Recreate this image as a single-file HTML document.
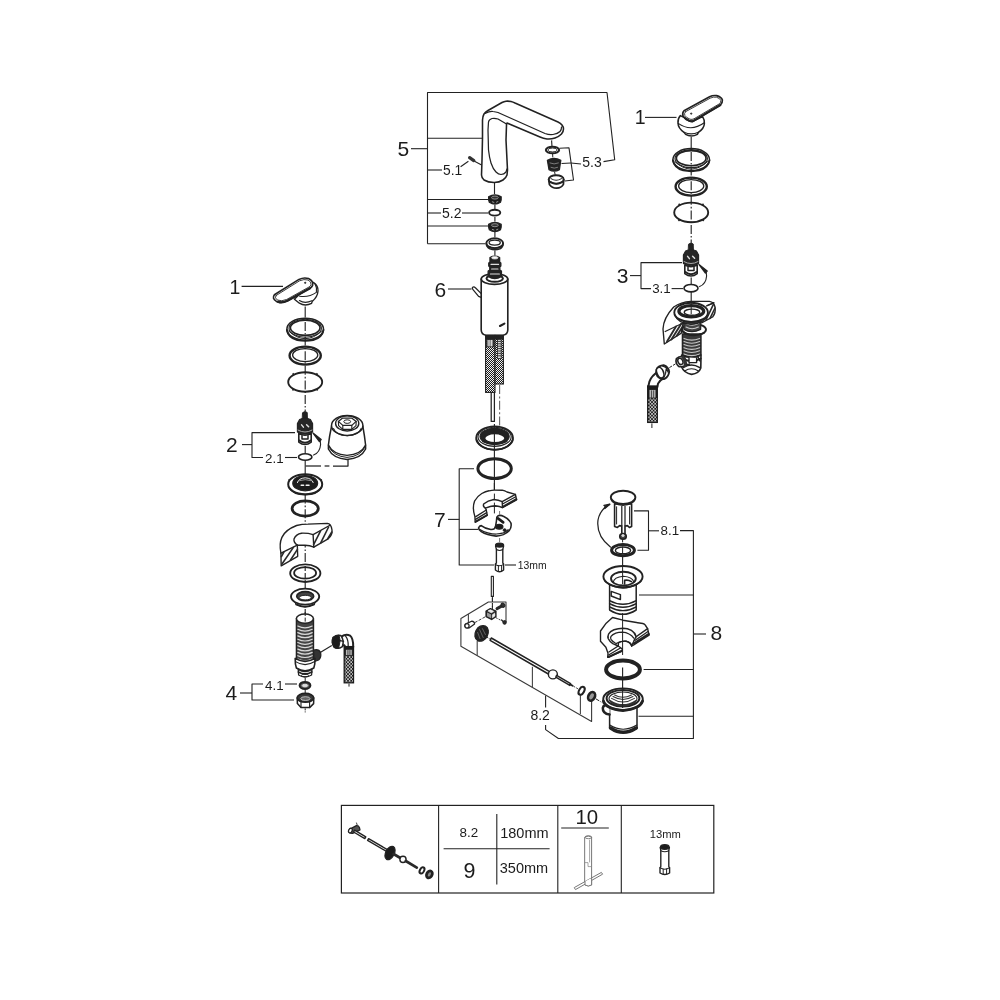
<!DOCTYPE html>
<html lang="en"><head><meta charset="utf-8"><title>Exploded parts diagram</title>
<style>
html,body{margin:0;padding:0;background:#fff;width:1000px;height:1000px;overflow:hidden}
svg{display:block;will-change:transform;transform:translateZ(0)}
text{font-family:"Liberation Sans",Arial,sans-serif;fill:#1c1c1c}
</style></head><body>
<svg width="1000" height="1000" viewBox="0 0 1000 1000">
<defs>
<pattern id="braid" width="2" height="2" patternUnits="userSpaceOnUse" shape-rendering="crispEdges">
<rect width="2" height="2" fill="#1a1a1a"/>
<rect x="0" y="0" width="1" height="1" fill="#f4f4f4"/>
<rect x="1" y="1" width="1" height="1" fill="#f4f4f4"/>
</pattern>
<pattern id="braid2" width="3.2" height="3.4" patternUnits="userSpaceOnUse">
<rect width="3.2" height="3.4" fill="#1a1a1a"/>
<circle cx="0.8" cy="0.85" r="0.78" fill="#fff"/>
<circle cx="2.4" cy="2.55" r="0.78" fill="#fff"/>
</pattern>
</defs>
<g id="leaders">
<polyline points="427.5,243.7 427.5,92.5 607,92.5 614.7,159.8 603.5,161.6" fill="none" stroke="#222" stroke-width="1.1" stroke-linejoin="round" />
<line x1="411" y1="148.7" x2="427.5" y2="148.7" stroke="#222" stroke-width="1.1" />
<line x1="427.5" y1="138.2" x2="482" y2="138.2" stroke="#222" stroke-width="1.1" />
<line x1="427.5" y1="170" x2="442" y2="170" stroke="#222" stroke-width="1.1" />
<line x1="460.6" y1="166.7" x2="468.4" y2="161.2" stroke="#222" stroke-width="1.1" />
<line x1="427.5" y1="199.5" x2="488" y2="199.5" stroke="#222" stroke-width="1.1" />
<line x1="427.5" y1="213" x2="441" y2="213" stroke="#222" stroke-width="1.1" />
<line x1="462" y1="213" x2="488" y2="213" stroke="#222" stroke-width="1.1" />
<line x1="427.5" y1="226" x2="488" y2="226" stroke="#222" stroke-width="1.1" />
<line x1="427.5" y1="243.7" x2="485" y2="243.7" stroke="#222" stroke-width="1.1" />
<text x="397.6" y="155.8" font-size="21" text-anchor="start" >5</text>
<text x="443" y="175.4" font-size="13.8" text-anchor="start" >5.1</text>
<text x="442" y="218.2" font-size="14" text-anchor="start" >5.2</text>
<text x="582.3" y="167.3" font-size="14" text-anchor="start" >5.3</text>
<polyline points="559.5,148.2 569,147.8 573.5,180 564.8,181" fill="none" stroke="#222" stroke-width="1.1" stroke-linejoin="round" />
<line x1="561.5" y1="163.5" x2="571" y2="163" stroke="#222" stroke-width="1.1" />
<line x1="571" y1="163" x2="581" y2="164" stroke="#222" stroke-width="1.1" />
<text x="434.5" y="296.8" font-size="21" text-anchor="start" >6</text>
<line x1="448" y1="289" x2="471.5" y2="289" stroke="#222" stroke-width="1.1" />
<text x="434" y="527" font-size="21" text-anchor="start" >7</text>
<line x1="448" y1="519.4" x2="459.4" y2="519.4" stroke="#222" stroke-width="1.1" />
<polyline points="474,468.8 459.2,468.8 459.2,565 494,565" fill="none" stroke="#222" stroke-width="1.1" stroke-linejoin="round" />
<line x1="459.4" y1="529.4" x2="478" y2="529.4" stroke="#222" stroke-width="1.1" />
<line x1="505" y1="565" x2="516" y2="565" stroke="#222" stroke-width="1.1" />
<text x="517.8" y="568.8" font-size="10.4" text-anchor="start" >13mm</text>
<text x="634.8" y="123.7" font-size="19.5" text-anchor="start" >1</text>
<line x1="645" y1="117.4" x2="676.5" y2="117.4" stroke="#222" stroke-width="1.1" />
<text x="616.8" y="283.2" font-size="21" text-anchor="start" >3</text>
<line x1="630" y1="275.6" x2="641" y2="275.6" stroke="#222" stroke-width="1.1" />
<polyline points="682,262.6 641,262.6 641,288.6 651,288.6" fill="none" stroke="#222" stroke-width="1.1" stroke-linejoin="round" />
<line x1="671.6" y1="288.6" x2="683" y2="288.6" stroke="#222" stroke-width="1.1" />
<text transform="translate(652.2 292.8) scale(1.06 1)" font-size="12.6" text-anchor="start" >3.1</text>
<text x="229.5" y="293.7" font-size="19.5" text-anchor="start" >1</text>
<line x1="241.6" y1="286.4" x2="283" y2="286.4" stroke="#222" stroke-width="1.1" />
<text x="226" y="452.2" font-size="21" text-anchor="start" >2</text>
<line x1="242" y1="444.6" x2="252" y2="444.6" stroke="#222" stroke-width="1.1" />
<polyline points="295,432.6 252,432.6 252,457.5 263,457.5" fill="none" stroke="#222" stroke-width="1.1" stroke-linejoin="round" />
<line x1="285" y1="457.5" x2="297" y2="457.5" stroke="#222" stroke-width="1.1" />
<text transform="translate(265 462.7) scale(1.06 1)" font-size="12.6" text-anchor="start" >2.1</text>
<text x="225.6" y="700.2" font-size="21" text-anchor="start" >4</text>
<line x1="240" y1="693" x2="252" y2="693" stroke="#222" stroke-width="1.1" />
<polyline points="263,684 252,684 252,700 294,700" fill="none" stroke="#222" stroke-width="1.1" stroke-linejoin="round" />
<line x1="285" y1="684" x2="297" y2="684" stroke="#222" stroke-width="1.1" />
<text transform="translate(265 689.8) scale(1.06 1)" font-size="12.6" text-anchor="start" >4.1</text>
<text x="710.5" y="639.8" font-size="21" text-anchor="start" >8</text>
<line x1="694" y1="634" x2="706" y2="634" stroke="#222" stroke-width="1.1" />
<polyline points="680,530.6 693.4,530.6 693.4,738.5 558.4,738.5 545.6,729.6 545.6,725" fill="none" stroke="#222" stroke-width="1.1" stroke-linejoin="round" />
<line x1="545.6" y1="695.6" x2="545.6" y2="707.6" stroke="#222" stroke-width="1.1" />
<line x1="639" y1="595" x2="693.4" y2="595" stroke="#222" stroke-width="1.1" />
<line x1="643.6" y1="669.5" x2="693.4" y2="669.5" stroke="#222" stroke-width="1.1" />
<line x1="638.5" y1="716.3" x2="693.4" y2="716.3" stroke="#222" stroke-width="1.1" />
<text transform="translate(660.6 535.3) scale(1.06 1)" font-size="12.6" text-anchor="start" >8.1</text>
<line x1="648.5" y1="530.8" x2="659" y2="530.8" stroke="#222" stroke-width="1.1" />
<polyline points="634,510.9 648.5,510.9 648.5,550.3 637.4,550.3" fill="none" stroke="#222" stroke-width="1.1" stroke-linejoin="round" />
<text x="530.4" y="719.7" font-size="14" text-anchor="start" >8.2</text>
<polyline points="506,622 506,602 488.4,602 460.9,618.5 460.9,646.3 591.6,721.5 591.6,701" fill="none" stroke="#3a3a3a" stroke-width="1.1" stroke-linejoin="round" />
<line x1="468.4" y1="614" x2="468.4" y2="622.8" stroke="#444" stroke-width="1.1" />
<line x1="477.2" y1="641" x2="477.2" y2="655.6" stroke="#444" stroke-width="1.1" />
<line x1="532.4" y1="666.8" x2="532.4" y2="687.6" stroke="#444" stroke-width="1.1" />
<line x1="580.4" y1="695.6" x2="580.4" y2="714" stroke="#444" stroke-width="1.1" />
</g>
<g id="table">
<rect x="341.4" y="805.4" width="372.4" height="87.6" fill="none" stroke="#222" stroke-width="1.2"/>
<line x1="438.6" y1="805.4" x2="438.6" y2="893" stroke="#222" stroke-width="1.1" />
<line x1="557.8" y1="805.4" x2="557.8" y2="893" stroke="#222" stroke-width="1.1" />
<line x1="621.3" y1="805.4" x2="621.3" y2="893" stroke="#222" stroke-width="1.1" />
<line x1="496.8" y1="814" x2="496.8" y2="884.4" stroke="#222" stroke-width="1.1" />
<line x1="443.6" y1="848.8" x2="549.6" y2="848.8" stroke="#222" stroke-width="1.1" />
<text x="468.9" y="836.6" font-size="13.4" text-anchor="middle" >8.2</text>
<text x="500.2" y="838.4" font-size="14.5" text-anchor="start" >180mm</text>
<text x="469.4" y="878.2" font-size="21.5" text-anchor="middle" >9</text>
<text x="499.8" y="872.8" font-size="14.5" text-anchor="start" >350mm</text>
<text x="586.8" y="824.4" font-size="20.4" text-anchor="middle" >10</text>
<line x1="561.2" y1="828" x2="608.8" y2="828" stroke="#222" stroke-width="1.1" />
<text x="665.4" y="838" font-size="11.2" text-anchor="middle" >13mm</text>
</g>
<g id="centre">
<path d="M481.5 175 L482 160 L482.5 138 L482.5 120 Q482.8 116 484 114 Q485.4 112 488 110.5 L502 102.5 Q504 101.4 506 101.2 Q508.6 101 511 101.5 Q513 102 515 103 L558 122 Q560.6 123.2 562 125 Q563.6 127 563.5 129 Q563.4 132 561.5 134 Q559 136.6 555 138 Q551 139.4 547 139 Q543.4 138.6 540 137 L507 123 Q506.4 123.6 506.5 125 L506 140 L507 160 L507.5 170 L507 175 Q506 178 503 180 Q499 182.6 494 182.5 Q488 182.4 484 180 Q481.6 178 481.5 175 Z" fill="#fff" stroke="#222" stroke-width="1.56" stroke-linejoin="round" stroke-linecap="round" />
<path d="M485 113.4 Q490 111 493 111.5 Q496 111.8 498 112.5 L545 133.5 Q549 135 553 134.5 Q557.6 134 560 131.5 Q561.6 130 561.5 127" fill="none" stroke="#222" stroke-width="1.25" stroke-linejoin="round" stroke-linecap="round" />
<path d="M506.5 124 L498 119 Q495 118 492 118.5 Q489 119.4 488.5 122 L488 130 L488.5 150 Q489.4 158 491 163 Q493 169 496 172 Q498.4 174.4 501 174.5 Q504 174.4 506 172 L507 169" fill="none" stroke="#222" stroke-width="1.25" stroke-linejoin="round" stroke-linecap="round" />
<line x1="474.5" y1="161.2" x2="481.6" y2="165" stroke="#222" stroke-width="1.12" />
<path d="M469.6 157.6 L473.8 160.6" fill="none" stroke="#333" stroke-width="3.25" stroke-linejoin="round" stroke-linecap="round" />
<line x1="494.5" y1="183" x2="494.5" y2="194" stroke="#222" stroke-width="1.12" />
<line x1="551.6" y1="140.4" x2="552" y2="146.4" stroke="#222" stroke-width="1.12" />
<ellipse cx="552.5" cy="150" rx="6.6" ry="3.3" fill="none" stroke="#222" stroke-width="2.12" />
<ellipse cx="552.5" cy="150" rx="4.6" ry="1.9" fill="none" stroke="#222" stroke-width="0.88" />
<line x1="552.6" y1="153.6" x2="552.8" y2="157.4" stroke="#222" stroke-width="1.0" />
<path d="M547.4 160.4 Q554 156.6 560.8 160.4 L559.4 169.6 Q554.2 172.8 549 169.6 Z" fill="#222" stroke="#222" stroke-width="1.25" stroke-linejoin="round" stroke-linecap="round" />
<path d="M550 163 Q554 165 558.4 163 M551 167.4 Q554.2 169 557.6 167.4" fill="none" stroke="#888" stroke-width="0.88" stroke-linejoin="round" stroke-linecap="round" />
<line x1="554.6" y1="172" x2="555.2" y2="175" stroke="#222" stroke-width="1.0" />
<ellipse cx="556.2" cy="179.4" rx="7.5" ry="4.2" fill="#fff" stroke="#222" stroke-width="1.88" />
<path d="M548.7 179.6 L549.4 184.4 Q552 188 556.6 188.2 Q561.4 188 563.4 184.4 L563.7 179.6" fill="none" stroke="#222" stroke-width="1.75" stroke-linejoin="round" stroke-linecap="round" />
<path d="M550.2 181.6 Q556.4 186.6 562.6 181.6" fill="none" stroke="#222" stroke-width="1.25" stroke-linejoin="round" stroke-linecap="round" />
<path d="M551 178.6 Q556.2 182 561.4 178.6" fill="none" stroke="#222" stroke-width="1.12" stroke-linejoin="round" stroke-linecap="round" />
<path d="M488.59999999999997 196.79999999999998 Q488.29999999999995 200.2 489.29999999999995 202.2 Q494.9 205.79999999999998 500.5 202.2 Q501.5 200.2 501.2 196.79999999999998 Q494.9 192.79999999999998 488.59999999999997 196.79999999999998 Z" fill="#1c1c1c" stroke="#222" stroke-width="1.25" stroke-linejoin="round" stroke-linecap="round" />
<ellipse cx="494.9" cy="197.6" rx="3.4" ry="1.5" fill="#333" stroke="#999" stroke-width="0.88" />
<path d="M492.29999999999995 201.79999999999998 L493.9 202.39999999999998 M496.5 202.2 L497.9 201.6" fill="none" stroke="#aaa" stroke-width="0.88" stroke-linejoin="round" stroke-linecap="round" />
<line x1="494.9" y1="205" x2="494.9" y2="209" stroke="#222" stroke-width="1.12" />
<ellipse cx="494.7" cy="212.7" rx="5.6" ry="2.9" fill="none" stroke="#222" stroke-width="1.88" />
<line x1="494.9" y1="217" x2="494.9" y2="221.5" stroke="#222" stroke-width="1.12" />
<path d="M488.59999999999997 224.4 Q488.29999999999995 227.8 489.29999999999995 229.8 Q494.9 233.4 500.5 229.8 Q501.5 227.8 501.2 224.4 Q494.9 220.4 488.59999999999997 224.4 Z" fill="#1c1c1c" stroke="#222" stroke-width="1.25" stroke-linejoin="round" stroke-linecap="round" />
<ellipse cx="494.9" cy="225.20000000000002" rx="3.4" ry="1.5" fill="#333" stroke="#999" stroke-width="0.88" />
<path d="M492.29999999999995 229.4 L493.9 230.0 M496.5 229.8 L497.9 229.20000000000002" fill="none" stroke="#aaa" stroke-width="0.88" stroke-linejoin="round" stroke-linecap="round" />
<line x1="494.9" y1="232" x2="494.9" y2="237" stroke="#222" stroke-width="1.12" />
<ellipse cx="494.7" cy="243.2" rx="8.4" ry="4.9" fill="#fff" stroke="#222" stroke-width="1.88" />
<path d="M486.29999999999995 243.4 Q486.5 247 489.9 248.8 Q494.9 250.8 499.9 248.8 Q503.09999999999997 247 503.09999999999997 243.4" fill="none" stroke="#222" stroke-width="1.62" stroke-linejoin="round" stroke-linecap="round" />
<ellipse cx="494.7" cy="242.6" rx="5.6" ry="2.6" fill="none" stroke="#222" stroke-width="1.25" />
<path d="M488.5 246.4 Q494.9 249.8 500.9 246.4" fill="none" stroke="#222" stroke-width="1.12" stroke-linejoin="round" stroke-linecap="round" />
<line x1="494.9" y1="250.6" x2="494.9" y2="255.6" stroke="#222" stroke-width="1.12" />
<path d="M481.2 279 L481.2 330 Q481.4 334.6 486 335.2 L503 335.2 Q507.6 334.6 507.8 330 L507.8 279" fill="#fff" stroke="#222" stroke-width="1.62" stroke-linejoin="round" stroke-linecap="round" />
<ellipse cx="494.5" cy="279" rx="13.3" ry="5.4" fill="#fff" stroke="#222" stroke-width="1.62" />
<ellipse cx="494.7" cy="278.4" rx="8.2" ry="3.4" fill="#fff" stroke="#222" stroke-width="2.0" />
<path d="M490 257.6 Q494.8 255 499.6 257.6 L499.6 262 L500.8 263 L500.8 266 L499.8 267 L499.8 270 L501.4 271 L501.4 276.4 Q494.8 280.6 488.2 276.4 L488.2 271 L489.8 270 L489.8 267 L488.8 266 L488.8 263 L490 262 Z" fill="#222" stroke="#222" stroke-width="1.38" stroke-linejoin="round" stroke-linecap="round" />
<ellipse cx="494.8" cy="257.8" rx="3.2" ry="1.2" fill="#fff" stroke="#ccc" stroke-width="0.88" />
<path d="M491 264.4 L498.6 264.4 M491.6 269 L498 269 M490.4 274 L499.4 274" fill="none" stroke="#ddd" stroke-width="1.12" stroke-linejoin="round" stroke-linecap="round" />
<path d="M472.4 287.4 Q474 286.2 475.4 287.8 L481 293.4 M472.4 287.4 Q472 288.6 473 289.6 L478.6 296.4 L481.2 297.4" fill="none" stroke="#222" stroke-width="1.25" stroke-linejoin="round" stroke-linecap="round" />
<path d="M500 326 L504.4 323.6" fill="none" stroke="#222" stroke-width="2.12" stroke-linejoin="round" stroke-linecap="round" />
<rect x="485.6" y="335.4" width="9.4" height="57" fill="url(#braid)" stroke="#222" stroke-width="1.1"/>
<rect x="495" y="335.4" width="8.4" height="48.6" fill="url(#braid)" stroke="#222" stroke-width="1.1"/>
<rect x="485.6" y="335.4" width="17.8" height="4" fill="#222"/>
<rect x="486.6" y="339.4" width="7" height="7.4" fill="#888" stroke="#222" stroke-width="0.9"/>
<line x1="489" y1="340" x2="489" y2="346.4" stroke="#eee" stroke-width="0.88" />
<line x1="491.4" y1="340" x2="491.4" y2="346.4" stroke="#eee" stroke-width="0.88" />
<rect x="497.4" y="339.4" width="3.8" height="19" fill="#ddd" stroke="#222" stroke-width="0.8"/>
<line x1="497.4" y1="341.4" x2="501.2" y2="341.4" stroke="#222" stroke-width="0.88" />
<line x1="497.4" y1="343.79999999999995" x2="501.2" y2="343.79999999999995" stroke="#222" stroke-width="0.88" />
<line x1="497.4" y1="346.2" x2="501.2" y2="346.2" stroke="#222" stroke-width="0.88" />
<line x1="497.4" y1="348.59999999999997" x2="501.2" y2="348.59999999999997" stroke="#222" stroke-width="0.88" />
<line x1="497.4" y1="351.0" x2="501.2" y2="351.0" stroke="#222" stroke-width="0.88" />
<line x1="497.4" y1="353.4" x2="501.2" y2="353.4" stroke="#222" stroke-width="0.88" />
<line x1="497.4" y1="355.79999999999995" x2="501.2" y2="355.79999999999995" stroke="#222" stroke-width="0.88" />
<path d="M491.2 392.4 L491.2 421.4 L494.4 421.4 L494.4 392.4" fill="none" stroke="#222" stroke-width="1.25" stroke-linejoin="round" stroke-linecap="round" />
<line x1="499.6" y1="385" x2="499.6" y2="431" stroke="#666" stroke-width="1.12" stroke-dasharray="9 2.4 2 2.4"/>
<ellipse cx="494.6" cy="438" rx="18.4" ry="11.6" fill="#fff" stroke="#222" stroke-width="1.88" />
<path d="M476.4 439.6 Q480 449.4 494.6 450 Q509.4 449.4 512.8 439.6" fill="none" stroke="#222" stroke-width="1.5" stroke-linejoin="round" stroke-linecap="round" />
<ellipse cx="494.6" cy="436.8" rx="16.6" ry="9.6" fill="#fff" stroke="#222" stroke-width="1.12" />
<ellipse cx="494.6" cy="436.4" rx="14.6" ry="8" fill="#222" stroke="#222" stroke-width="1.12" />
<ellipse cx="494.8" cy="438.2" rx="10.2" ry="4.6" fill="#fff" stroke="#222" stroke-width="1.5" />
<path d="M482.6 441.6 Q494.6 448 507 441.6" fill="none" stroke="#222" stroke-width="1.12" stroke-linejoin="round" stroke-linecap="round" />
<line x1="494.4" y1="424" x2="494.4" y2="457" stroke="#222" stroke-width="1.12" />
<ellipse cx="494.6" cy="468.6" rx="16.7" ry="9.9" fill="none" stroke="#222" stroke-width="3.0" />
<line x1="494.4" y1="457" x2="494.4" y2="490" stroke="#222" stroke-width="1.12" />
<path d="M475.2 522.3 L474.9 516.6 Q472 508 474.6 501 Q477 496.4 481.8 493.5 Q485.6 491.4 489 490.8 Q492 490.1 494.4 490.1 L502.2 490.2 Q505 491 507 492 L515.4 494.4 L516.6 499.8 L502.5 507.6 Q499.8 506.2 495 505.8 Q490.2 506 485.4 508.2 L486.3 510 L487.2 515.4 Z" fill="#fff" stroke="#222" stroke-width="1.38" stroke-linejoin="round" stroke-linecap="round" />
<path d="M502.5 507.6 L502.2 501.6 Q498.6 499.8 493.8 499.5 Q487.8 500.4 483.6 504 Q482.6 506.6 485.4 508.2" fill="none" stroke="#222" stroke-width="1.38" stroke-linejoin="round" stroke-linecap="round" />
<path d="M502.2 501.6 L515.4 494.4 M475.8 516.6 L486.3 510" fill="none" stroke="#222" stroke-width="1.38" stroke-linejoin="round" stroke-linecap="round" />
<path d="M502.5 504 L515.7 496.8" fill="none" stroke="#222" stroke-width="1.25" stroke-linejoin="round" stroke-linecap="round" />
<path d="M502.7 506.8 L516.4 499.2" fill="none" stroke="#222" stroke-width="2.0" stroke-linejoin="round" stroke-linecap="round" />
<path d="M475.5 519.4 L486.7 512.6" fill="none" stroke="#222" stroke-width="1.25" stroke-linejoin="round" stroke-linecap="round" />
<path d="M475.6 521.6 L487.1 515" fill="none" stroke="#222" stroke-width="1.75" stroke-linejoin="round" stroke-linecap="round" />
<line x1="494.4" y1="483" x2="494.4" y2="490" stroke="#222" stroke-width="1.12" />
<path d="M494.4 494 L494.4 499 M494.4 503 L494.4 513 M491 506.4 L498 506.4" fill="none" stroke="#222" stroke-width="1.0" stroke-linejoin="round" stroke-linecap="round" />
<path d="M478.5 528 Q479.4 525.8 481.2 525.6 Q485 528.6 490.8 529.5 Q493.4 529.6 494.4 528.6 L495.6 526.2 Q496.6 521 496.8 517.2 Q498 515.4 499.8 515.4 Q502 515.4 503.4 516.3 Q507.6 518.4 509.4 520.8 Q511.4 523 511.2 525 Q511.2 528 509.4 530.4 Q507 533 503.4 534.6 Q500 536 496.2 536.1 Q492 536 487.8 534.6 Q484 533.4 481.2 531.6 Q478.6 530 478.5 528 Z" fill="#fff" stroke="#222" stroke-width="1.56" stroke-linejoin="round" stroke-linecap="round" />
<path d="M479.4 529.2 Q483 531.6 487.8 532.8 Q492 534 496.2 534 Q500 533.8 503.4 532.8 Q506.4 531.6 508.2 529.8" fill="none" stroke="#222" stroke-width="1.25" stroke-linejoin="round" stroke-linecap="round" />
<path d="M498 518.4 L503.2 522.4" fill="none" stroke="#1c1c1c" stroke-width="2.62" stroke-linejoin="round" stroke-linecap="round" />
<ellipse cx="499.2" cy="526.8" rx="3.7" ry="2.4" fill="#1c1c1c" stroke="#222" stroke-width="1.25" />
<ellipse cx="504.6" cy="530.1" rx="1.5" ry="1.3" fill="#1c1c1c" stroke="#222" stroke-width="1.0" />
<path d="M499.6 511.4 L499.6 514.6" fill="none" stroke="#777" stroke-width="1.0" stroke-linejoin="round" stroke-linecap="round" />
<path d="M499.6 538.4 L499.6 541.6" fill="none" stroke="#777" stroke-width="1.0" stroke-linejoin="round" stroke-linecap="round" />
<path d="M495.6 546 L496.4 549.4 L496.4 563 L495.4 564 L495.4 570 Q499.6 573.4 503.6 570 L503.6 564 L502.8 563 L502.8 549.4 L503.6 546" fill="#fff" stroke="#222" stroke-width="1.38" stroke-linejoin="round" stroke-linecap="round" />
<ellipse cx="499.6" cy="545" rx="4" ry="2" fill="#222" stroke="#222" stroke-width="1.25" />
<path d="M496.4 549.6 Q499.6 551.4 502.8 549.6 M495.4 564.4 Q499.6 567 503.6 564.4" fill="none" stroke="#222" stroke-width="1.12" stroke-linejoin="round" stroke-linecap="round" />
<line x1="498.4" y1="565.4" x2="498.4" y2="571.4" stroke="#222" stroke-width="1.0" />
<line x1="501.6" y1="565" x2="501.6" y2="571" stroke="#222" stroke-width="1.0" />
<path d="M491.3 576.4 L491.3 596.4 L493.4 596.4 L493.4 576.4 Z" fill="none" stroke="#222" stroke-width="1.12" stroke-linejoin="round" stroke-linecap="round" />
<line x1="492.4" y1="596.4" x2="492.4" y2="610" stroke="#222" stroke-width="1.0" stroke-dasharray="5 1.6 1.2 1.6"/>
</g>
<g id="rodset">
<line x1="492.4" y1="598" x2="492.4" y2="610" stroke="#222" stroke-width="1.0" stroke-dasharray="4 1.5"/>
<path d="M486.2 611.2 L490.4 608.8 L495.8 611.2 L495.8 616.6 L491.6 619.4 L486.2 616.6 Z" fill="#999" stroke="#222" stroke-width="1.62" stroke-linejoin="round" stroke-linecap="round" />
<path d="M486.4 611.4 L491.6 614 L495.6 611.4 M491.6 614 L491.6 619.2" fill="none" stroke="#222" stroke-width="1.12" stroke-linejoin="round" stroke-linecap="round" />
<path d="M488.4 610.6 L490.6 609.8 L493.4 611.2 L491.4 612.4 Z" fill="#eee" stroke="#eee" stroke-width="0.62" stroke-linejoin="round" stroke-linecap="round" />
<path d="M492.6 615 L494.8 613.6 L494.8 616 L492.6 617.6 Z" fill="#eee" stroke="#eee" stroke-width="0.62" stroke-linejoin="round" stroke-linecap="round" />
<path d="M497 608.6 L502.4 605.6" fill="none" stroke="#2a2a2a" stroke-width="3.0" stroke-linejoin="round" stroke-linecap="round" />
<ellipse cx="503" cy="605.2" rx="1.8" ry="2.2" fill="#333" stroke="#222" stroke-width="1.0" transform="rotate(-30 503 605.2)" />
<path d="M501.6 620 L505 623.4" fill="none" stroke="#222" stroke-width="1.25" stroke-linejoin="round" stroke-linecap="round" />
<ellipse cx="504.6" cy="622.4" rx="1.7" ry="1.9" fill="#2a2a2a" stroke="#222" stroke-width="1.0" />
<line x1="495.8" y1="617.6" x2="501" y2="620.4" stroke="#222" stroke-width="0.88" stroke-dasharray="2 1.2"/>
<path d="M466.4 623.6 L471.6 621.2 Q474.6 621.4 474.6 624 L469.4 627.8 Q465.4 628.2 464.8 625.6 Q464.8 624 466.4 623.6 Z" fill="#fff" stroke="#222" stroke-width="1.25" stroke-linejoin="round" stroke-linecap="round" />
<ellipse cx="467" cy="625.8" rx="2.1" ry="2.3" fill="#fff" stroke="#222" stroke-width="1.25" />
<line x1="474.8" y1="622.6" x2="486" y2="616.4" stroke="#222" stroke-width="0.88" stroke-dasharray="3 1.4"/>
<ellipse cx="481.6" cy="633.4" rx="6.3" ry="8.2" fill="#222" stroke="#222" stroke-width="1.25" transform="rotate(28 481.6 633.4)" />
<path d="M479.6 629.6 L483.2 637.6 M477.6 632.4 L480 638.6 M482.4 628.6 L485.4 634.6" fill="none" stroke="#777" stroke-width="0.75" stroke-linejoin="round" stroke-linecap="round" />
<line x1="486.6" y1="637" x2="491" y2="639.6" stroke="#222" stroke-width="0.88" stroke-dasharray="2 1.2"/>
<path d="M491.3 638.0 L549.6 671.6 L548.4 674 L490.1 640.4 Z" fill="#fff" stroke="#222" stroke-width="1.56" stroke-linejoin="round" stroke-linecap="round" />
<ellipse cx="552.9" cy="674.4" rx="4.5" ry="4.5" fill="#fff" stroke="#222" stroke-width="1.38" />
<path d="M556.6 675.4 L570.6 683.6 L569.8 685.4 L555.8 677.2 Z" fill="#fff" stroke="#222" stroke-width="1.5" stroke-linejoin="round" stroke-linecap="round" />
<path d="M570.4 684.4 L572.6 685.8" fill="none" stroke="#222" stroke-width="1.75" stroke-linejoin="round" stroke-linecap="round" />
<line x1="573.4" y1="686.2" x2="579" y2="689.4" stroke="#222" stroke-width="0.88" stroke-dasharray="2 1.2"/>
<ellipse cx="581.6" cy="690.8" rx="2.5" ry="4.3" fill="#fff" stroke="#222" stroke-width="2.12" transform="rotate(28 581.6 690.8)" />
<ellipse cx="591.6" cy="696.4" rx="3.2" ry="4.5" fill="#999" stroke="#222" stroke-width="2.62" transform="rotate(28 591.6 696.4)" />
<line x1="595.8" y1="698.8" x2="603.8" y2="703.6" stroke="#222" stroke-width="1.0" stroke-dasharray="4 1.4 1 1.4"/>
</g>
<g id="waste">
<path d="M614.6 504 L614.6 526.4 L617.4 527.4 L619.6 525.6 L621.8 526 L621.8 534 L625 534 L625 526 L627.4 525.6 L629.4 527.4 L631.6 526.4 L631.6 504 Z" fill="#fff" stroke="#222" stroke-width="1.62" stroke-linejoin="round" stroke-linecap="round" />
<line x1="616.6" y1="506.4" x2="616.6" y2="524.4" stroke="#222" stroke-width="1.0" />
<line x1="629.6" y1="506.4" x2="629.6" y2="524.4" stroke="#222" stroke-width="1.0" />
<line x1="621.8" y1="506" x2="621.8" y2="526" stroke="#222" stroke-width="1.25" />
<line x1="625" y1="506" x2="625" y2="526" stroke="#222" stroke-width="1.25" />
<ellipse cx="623" cy="536.4" rx="3.3" ry="2.8" fill="#444" stroke="#222" stroke-width="1.5" />
<ellipse cx="623" cy="535.6" rx="1.3" ry="1" fill="#ddd" stroke="#ddd" stroke-width="0.75" />
<ellipse cx="623.1" cy="497.3" rx="12.3" ry="6.6" fill="#fff" stroke="#222" stroke-width="1.88" />
<path d="M611.2 499.6 Q613 504.8 623 505.2 Q633 504.8 635 499.6" fill="none" stroke="#222" stroke-width="1.5" stroke-linejoin="round" stroke-linecap="round" />
<path d="M610.4 547 Q596 536 598 520 Q600 509.4 609.6 504.4" fill="none" stroke="#222" stroke-width="1.25" stroke-linejoin="round" stroke-linecap="round" />
<path d="M604.8 508.4 L609.8 504.2 L604 505.4" fill="#222" stroke="#222" stroke-width="1.38" stroke-linejoin="round" stroke-linecap="round" />
<line x1="622.6" y1="539.4" x2="622.6" y2="544" stroke="#222" stroke-width="1.0" stroke-dasharray="3 1.2"/>
<ellipse cx="623" cy="550.2" rx="11.4" ry="5.6" fill="#fff" stroke="#222" stroke-width="3.0" />
<ellipse cx="623" cy="550.4" rx="7.6" ry="3.4" fill="none" stroke="#222" stroke-width="1.38" />
<line x1="622.6" y1="546.6" x2="622.6" y2="553.6" stroke="#222" stroke-width="1.0" />
<line x1="622.6" y1="556.6" x2="622.6" y2="566.4" stroke="#222" stroke-width="1.12" />
<path d="M609.6 584 L609.6 610 Q623 618.6 636.2 610 L636.2 584 Z" fill="#fff" stroke="#222" stroke-width="1.5" stroke-linejoin="round" stroke-linecap="round" />
<path d="M609.6 600.6 Q623 608 636.2 600.6 M609.6 603.6 Q623 611 636.2 603.6 M609.6 606.8 Q623 614.4 636.2 606.8" fill="none" stroke="#222" stroke-width="1.38" stroke-linejoin="round" stroke-linecap="round" />
<path d="M611.2 591.4 L620.4 594.6 L620.4 599.6 L611.2 596 Z" fill="#fff" stroke="#222" stroke-width="1.5" stroke-linejoin="round" stroke-linecap="round" />
<ellipse cx="623" cy="576.6" rx="19.6" ry="10.6" fill="#fff" stroke="#222" stroke-width="1.88" />
<path d="M605 581.6 Q623 594.6 641 581.6" fill="none" stroke="#222" stroke-width="1.25" stroke-linejoin="round" stroke-linecap="round" />
<ellipse cx="623.4" cy="578.6" rx="12.4" ry="6.9" fill="#fff" stroke="#222" stroke-width="1.88" />
<path d="M613.2 582.4 Q614 577 623.4 576.2 Q632.6 577 633.8 582" fill="none" stroke="#222" stroke-width="1.12" stroke-linejoin="round" stroke-linecap="round" />
<path d="M624.6 584 L624.6 580.4 Q628 579.4 631.4 581.6" fill="none" stroke="#222" stroke-width="1.62" stroke-linejoin="round" stroke-linecap="round" />
<line x1="622.6" y1="566.4" x2="622.6" y2="584" stroke="#222" stroke-width="1.0" />
<path d="M612.5 617.5 L623 620.2 L635 622.3 L642.8 623.5 Q644.6 624 645.2 625 L647.6 628.6 L649.1 635.2 L633.8 644.8 L631.6 646 Q630.4 642.6 626 641.2 Q622 640.8 618.6 642.6 L618.2 646 L622.4 649 L621.8 651.4 L607.7 657.4 L608 653.2 L605.9 647.2 L600.5 641.2 L600.5 631 L606.2 623.2 Z" fill="#fff" stroke="#222" stroke-width="1.38" stroke-linejoin="round" stroke-linecap="round" />
<path d="M636.2 636.7 Q635 632.6 631.4 630.4 Q627.6 628.4 623 628.3 Q618 628.4 614 629.8 Q610 631.4 608.6 634 Q607.4 636.6 608.3 638.8 Q609.6 641.6 612.8 643.6 L618.2 646" fill="none" stroke="#222" stroke-width="1.5" stroke-linejoin="round" stroke-linecap="round" />
<path d="M633.8 638.2 Q632 635.4 629 634 Q626 632.4 622.4 632.2 Q618.6 632.2 615.8 633.1 Q612.4 634.4 611 636.4 Q610.2 638 611 639.4 Q612.4 641.6 615.2 643" fill="none" stroke="#222" stroke-width="1.25" stroke-linejoin="round" stroke-linecap="round" />
<path d="M615.8 643.9 Q617.6 642.4 620 641.8 Q623 641 626 641.2 Q628.6 641.6 630.2 643 Q631.4 644.4 631.7 646" fill="none" stroke="#222" stroke-width="1.38" stroke-linejoin="round" stroke-linecap="round" />
<path d="M636.2 636.7 L647.6 628.6 M636.2 636.7 Q634.4 639.4 633.4 642 L631.7 646" fill="none" stroke="#222" stroke-width="1.38" stroke-linejoin="round" stroke-linecap="round" />
<path d="M634.8 640.6 L648 631.4" fill="none" stroke="#222" stroke-width="1.25" stroke-linejoin="round" stroke-linecap="round" />
<path d="M634 643.4 L648.8 634" fill="none" stroke="#222" stroke-width="2.12" stroke-linejoin="round" stroke-linecap="round" />
<path d="M608.9 652 L618.2 646" fill="none" stroke="#222" stroke-width="1.38" stroke-linejoin="round" stroke-linecap="round" />
<path d="M608.6 655 L620.4 648" fill="none" stroke="#222" stroke-width="1.25" stroke-linejoin="round" stroke-linecap="round" />
<path d="M608.6 657 L622 650.6" fill="none" stroke="#222" stroke-width="2.0" stroke-linejoin="round" stroke-linecap="round" />
<line x1="622.6" y1="613" x2="622.6" y2="655" stroke="#222" stroke-width="1.0" />
<ellipse cx="623" cy="669.5" rx="16.9" ry="8.9" fill="none" stroke="#222" stroke-width="4.0" />
<line x1="622.6" y1="667.6" x2="622.6" y2="690" stroke="#222" stroke-width="1.12" />
<path d="M609.6 704 L609.6 728 Q623 737 637 728 L637 704 Z" fill="#fff" stroke="#222" stroke-width="1.5" stroke-linejoin="round" stroke-linecap="round" />
<path d="M609.8 725 Q623 733.4 636.8 725" fill="none" stroke="#222" stroke-width="1.12" stroke-linejoin="round" stroke-linecap="round" />
<path d="M610.6 728 Q623 736.6 636.2 728" fill="none" stroke="#222" stroke-width="3.5" stroke-linejoin="round" stroke-linecap="round" />
<path d="M609.6 705.6 Q603.6 703.6 602.8 708 Q602.6 713.6 609.6 714.6" fill="#fff" stroke="#222" stroke-width="2.5" stroke-linejoin="round" stroke-linecap="round" />
<ellipse cx="623" cy="699.2" rx="19.8" ry="10.8" fill="#fff" stroke="#222" stroke-width="1.88" />
<path d="M603.4 701 Q606 709 623 710.6 Q640 709 642.6 701" fill="none" stroke="#222" stroke-width="2.75" stroke-linejoin="round" stroke-linecap="round" />
<ellipse cx="623" cy="698.2" rx="16.4" ry="8.2" fill="#fff" stroke="#222" stroke-width="2.0" />
<ellipse cx="623" cy="698.6" rx="14" ry="6.6" fill="none" stroke="#222" stroke-width="1.12" />
<path d="M610.4 700.6 Q623 708.6 635.6 700.6 M611.6 698.4 Q623 705.6 634.4 698.4 M613 696.6 Q623 702.4 633 696.6 M612 703 Q623 709.6 634 703 M614.6 695 Q623 699.6 631.4 695 M611 702 Q623 709 635 702" fill="none" stroke="#333" stroke-width="1.12" stroke-linejoin="round" stroke-linecap="round" />
<line x1="622.6" y1="690" x2="622.6" y2="708" stroke="#222" stroke-width="1.0" />
</g>
<g id="leftcol">
<path d="M294.4 299.2 L299.4 303.2 Q305 306.6 311.6 303.4 L312.2 301.4 Q317.6 297 318 291 Q318.4 286 313.4 282.4 L306 288 Z" fill="#fff" stroke="#222" stroke-width="1.38" stroke-linejoin="round" stroke-linecap="round" />
<path d="M299.4 300.6 Q305 304 311.8 300.8" fill="none" stroke="#222" stroke-width="1.12" stroke-linejoin="round" stroke-linecap="round" />
<path d="M315 283.8 Q317.2 288 316.4 292.4 Q309 297.6 299.6 296.2" fill="none" stroke="#222" stroke-width="1.12" stroke-linejoin="round" stroke-linecap="round" />
<path d="M274.4 294.8 L299 279.4 Q304 277 308.5 278.6 Q313.6 281 312.6 285.4 Q312 287 310 288.2 L287.4 300.8 Q281 303.6 276.4 301.4 Q271.6 298.4 274.4 294.8 Z" fill="#fff" stroke="#222" stroke-width="1.62" stroke-linejoin="round" stroke-linecap="round" />
<path d="M276 295.6 L299.6 280.8 Q304 278.8 308 280 Q311.6 281.8 311 284.6 Q310.6 286 309 287 L286.8 299.4 Q281.4 301.8 277.4 300 Q274 298 276 295.6 Z" fill="none" stroke="#222" stroke-width="0.88" stroke-linejoin="round" stroke-linecap="round" />
<path d="M278 301.6 Q282 303.4 287.4 300.8 L310 288.2" fill="none" stroke="#222" stroke-width="2.25" stroke-linejoin="round" stroke-linecap="round" />
<ellipse cx="305.2" cy="282.8" rx="0.7" ry="0.7" fill="#222" stroke="#222" stroke-width="0.75" />
<line x1="305.2" y1="306.4" x2="305.2" y2="317.6" stroke="#222" stroke-width="1.12" />
<ellipse cx="305.2" cy="329.20000000000005" rx="18.3" ry="11.0" fill="none" stroke="#222" stroke-width="1.5" />
<path d="M286.9 330.0 Q288.2 337.6 297.2 340.0 Q305.2 341.6 313.2 340.0 Q322.2 337.6 323.5 330.0" fill="none" stroke="#222" stroke-width="1.88" stroke-linejoin="round" stroke-linecap="round" />
<ellipse cx="305.2" cy="328.20000000000005" rx="16.2" ry="9.0" fill="none" stroke="#222" stroke-width="1.12" />
<ellipse cx="305.2" cy="327.8" rx="14.8" ry="7.6" fill="none" stroke="#222" stroke-width="1.62" />
<path d="M288.8 331.20000000000005 Q305.2 346.40000000000003 321.59999999999997 331.20000000000005" fill="none" stroke="#222" stroke-width="1.0" stroke-linejoin="round" stroke-linecap="round" />
<ellipse cx="305.2" cy="355.6" rx="15.6" ry="9.0" fill="none" stroke="#222" stroke-width="2.38" />
<ellipse cx="305.2" cy="355.0" rx="12.6" ry="6.5" fill="none" stroke="#222" stroke-width="1.25" />
<ellipse cx="305.2" cy="382" rx="17" ry="9.8" fill="none" stroke="#222" stroke-width="1.88" />
<line x1="293.8" y1="374.6" x2="292.65999999999997" y2="373.342" stroke="#222" stroke-width="1.62" />
<line x1="316.4" y1="374.6" x2="317.52" y2="373.342" stroke="#222" stroke-width="1.62" />
<line x1="293.59999999999997" y1="389.2" x2="292.44" y2="390.424" stroke="#222" stroke-width="1.62" />
<line x1="316.59999999999997" y1="389.2" x2="317.74" y2="390.424" stroke="#222" stroke-width="1.62" />
<line x1="305.2" y1="322" x2="305.2" y2="411.5" stroke="#222" stroke-width="1.12" stroke-dasharray="9 2 1.6 2"/>
<path d="M302.8 412.5 Q305 410.7 307.2 412.5 L307.4 419.0 L302.6 419.0 Z" fill="#222" stroke="#222" stroke-width="1.0" stroke-linejoin="round" stroke-linecap="round" />
<path d="M299.6 419.5 Q305 417.1 310.4 419.5 L312.6 423.5 L312.6 431.9 Q305 436.5 297.4 431.9 L297.4 423.5 Z" fill="#262626" stroke="#222" stroke-width="1.12" stroke-linejoin="round" stroke-linecap="round" />
<path d="M301.6 424.9 L303.4 427.1 M306.6 424.7 L308.6 426.7" fill="none" stroke="#ddd" stroke-width="1.5" stroke-linejoin="round" stroke-linecap="round" />
<path d="M298 430.1 Q305 434.1 312 430.1" fill="none" stroke="#aaa" stroke-width="1.0" stroke-linejoin="round" stroke-linecap="round" />
<path d="M298.8 433.5 L298.8 442.1 Q305 446.9 311.2 442.1 L311.2 433.5 Q305 436.9 298.8 433.5 Z" fill="#fff" stroke="#222" stroke-width="1.62" stroke-linejoin="round" stroke-linecap="round" />
<path d="M299.4 440.5 Q305 444.9 310.6 440.5" fill="none" stroke="#222" stroke-width="2.0" stroke-linejoin="round" stroke-linecap="round" />
<path d="M302 435.7 L302 438.9 L308 438.9 L308 435.7" fill="none" stroke="#222" stroke-width="1.5" stroke-linejoin="round" stroke-linecap="round" />
<path d="M313 433.1 L321.2 439.5 L319.4 441.5 Z" fill="#222" stroke="#222" stroke-width="1.25" stroke-linejoin="round" stroke-linecap="round" />
<path d="M313.6 455.1 Q320 452.5 320.6 444.5 L320.2 440.5" fill="none" stroke="#222" stroke-width="1.12" stroke-linejoin="round" stroke-linecap="round" />
<line x1="305.2" y1="446" x2="305.2" y2="453.4" stroke="#222" stroke-width="1.12" />
<ellipse cx="305.2" cy="457" rx="6.7" ry="3.3" fill="none" stroke="#222" stroke-width="1.62" />
<line x1="305.2" y1="460.4" x2="305.2" y2="474" stroke="#222" stroke-width="1.12" />
<polyline points="305.6,466 321,466" fill="none" stroke="#222" stroke-width="1.25" stroke-linejoin="round" />
<line x1="324.6" y1="466" x2="329.4" y2="466" stroke="#222" stroke-width="1.25" />
<polyline points="333,466 348,466 348,459.4" fill="none" stroke="#222" stroke-width="1.25" stroke-linejoin="round" />
<path d="M331.6 426 Q329.4 436 328.4 445 L328.4 449 Q333 458.4 347 459.4 Q361 458.6 365.6 449 L365.6 445 Q364.6 436 362.8 426 Z" fill="#fff" stroke="#222" stroke-width="1.5" stroke-linejoin="round" stroke-linecap="round" />
<path d="M328.4 445 Q333 454.4 347 455.4 Q361 454.6 365.6 445" fill="none" stroke="#222" stroke-width="1.38" stroke-linejoin="round" stroke-linecap="round" />
<path d="M329 447.2 Q334 456.4 347 457.4 Q360 456.6 365 447.2" fill="none" stroke="#222" stroke-width="1.0" stroke-linejoin="round" stroke-linecap="round" />
<ellipse cx="347.2" cy="425.4" rx="15.7" ry="10" fill="#fff" stroke="#222" stroke-width="1.5" />
<path d="M333.6 428.6 Q336 435.4 347.2 435.8 Q358.6 435.4 361 428.6" fill="none" stroke="#222" stroke-width="1.12" stroke-linejoin="round" stroke-linecap="round" />
<ellipse cx="347.2" cy="423.4" rx="11.6" ry="7.6" fill="none" stroke="#222" stroke-width="1.38" />
<path d="M338.4 421.4 L342.6 418 L351.6 418 L356.2 421.4 L351.8 425.4 L342.8 425.4 Z" fill="none" stroke="#222" stroke-width="1.25" stroke-linejoin="round" stroke-linecap="round" />
<path d="M338.4 421.4 L338.6 425.6 L342.8 429.4 L351.8 429.4 L356 425.6 L356.2 421.4 M342.8 425.4 L342.8 429.4 M351.8 425.4 L351.8 429.4" fill="none" stroke="#222" stroke-width="1.12" stroke-linejoin="round" stroke-linecap="round" />
<ellipse cx="347.2" cy="421.6" rx="3.4" ry="1.8" fill="none" stroke="#222" stroke-width="1.0" />
<ellipse cx="305.2" cy="484.2" rx="17" ry="10" fill="#fff" stroke="#222" stroke-width="2.0" />
<path d="M289 487.6 Q293 494.6 305.2 495 Q317.6 494.6 321.4 487.6" fill="none" stroke="#222" stroke-width="1.25" stroke-linejoin="round" stroke-linecap="round" />
<ellipse cx="305.2" cy="483.2" rx="12.4" ry="7.6" fill="#1c1c1c" stroke="#222" stroke-width="1.25" />
<path d="M297.4 482.6 Q298.6 478.2 305.2 477.8 Q312 478.2 313.2 482.6" fill="none" stroke="#e8e8e8" stroke-width="1.0" stroke-linejoin="round" stroke-linecap="round" />
<path d="M299.6 480.6 Q305.2 478.6 311 480.6" fill="none" stroke="#bbb" stroke-width="0.75" stroke-linejoin="round" stroke-linecap="round" />
<path d="M301.2 485.3 L303.6 485.3 M306.2 485.3 L309 485.3" fill="none" stroke="#f4f4f4" stroke-width="1.5" stroke-linejoin="round" stroke-linecap="round" />
<line x1="289.8" y1="480.6" x2="288.568" y2="479.6" stroke="#222" stroke-width="1.25" />
<line x1="320.59999999999997" y1="480.6" x2="321.832" y2="479.6" stroke="#222" stroke-width="1.25" />
<line x1="305.2" y1="474" x2="305.2" y2="476" stroke="#222" stroke-width="1.12" />
<ellipse cx="305.2" cy="508.5" rx="13.1" ry="7.6" fill="none" stroke="#222" stroke-width="2.75" />
<line x1="305.2" y1="494.6" x2="305.2" y2="600" stroke="#222" stroke-width="1.12" stroke-dasharray="9 2 1.6 2"/>
<path d="M281.2 565.8 L280.9 552.8 Q279 544 281.9 537.4 Q285 530 296.6 525.5 Q302 524.1 308 524.1 L327.4 523.4 Q331 523.4 332 530 Q332.6 535 328.1 538.8 L313.8 547.2 Q310 545.4 305 545.3 L297.3 545.1 L297.7 556.3 Z" fill="#fff" stroke="#222" stroke-width="1.38" stroke-linejoin="round" stroke-linecap="round" />
<path d="M313.8 547.2 L313.1 534.6 Q308 533 301.5 533.2 Q296 534 294 539 Q293.4 542.4 297.3 545.1" fill="none" stroke="#222" stroke-width="1.38" stroke-linejoin="round" stroke-linecap="round" />
<path d="M313.1 534.6 L329.5 525.5 M281 553.2 L297.3 545.1" fill="none" stroke="#222" stroke-width="1.38" stroke-linejoin="round" stroke-linecap="round" />
<path d="M313.6 544.6 L320.6 530.8 M320.6 543.2 L328.6 527 M327.6 539 L331.8 532" fill="none" stroke="#2a2a2a" stroke-width="1.62" stroke-linejoin="round" stroke-linecap="round" />
<path d="M282 564 L293.4 547.4 M290.4 560.2 L297.4 549.4 M281.4 556.6 L284 551.8" fill="none" stroke="#2a2a2a" stroke-width="1.62" stroke-linejoin="round" stroke-linecap="round" />
<ellipse cx="305.3" cy="573.2" rx="15.1" ry="8.8" fill="#fff" stroke="#222" stroke-width="1.88" />
<ellipse cx="305.1" cy="572.9" rx="11" ry="5.8" fill="#fff" stroke="#222" stroke-width="1.75" />
<line x1="305.2" y1="566" x2="305.2" y2="582" stroke="#222" stroke-width="1.12" stroke-dasharray="5 2"/>
<path d="M295 600.6 L296 604.6 Q305 609.2 314.2 604.6 L315.2 600.6" fill="#fff" stroke="#222" stroke-width="1.5" stroke-linejoin="round" stroke-linecap="round" />
<ellipse cx="305.1" cy="596.6" rx="14.1" ry="8.0" fill="#fff" stroke="#222" stroke-width="1.88" />
<ellipse cx="305.2" cy="596.2" rx="8.5" ry="4.6" fill="#444" stroke="#222" stroke-width="1.62" />
<ellipse cx="305.2" cy="597.6" rx="6.0" ry="2.3" fill="#fff" stroke="#222" stroke-width="1.0" />
<path d="M297 604.4 Q305 608.6 313.2 604.4" fill="none" stroke="#222" stroke-width="1.5" stroke-linejoin="round" stroke-linecap="round" />
<line x1="305.2" y1="609" x2="305.2" y2="615" stroke="#222" stroke-width="1.12" />
<path d="M296.4 618.6 L296.4 659 Q305 664 313.5 659 L313.5 618.6 Z" fill="#444" stroke="#222" stroke-width="1.38" stroke-linejoin="round" stroke-linecap="round" />
<path d="M297.8 626.0 Q305 629.6 312.2 626.0" fill="none" stroke="#d8d8d8" stroke-width="1.19" stroke-linejoin="round" stroke-linecap="round" />
<path d="M297.8 629.3 Q305 632.9 312.2 629.3" fill="none" stroke="#d8d8d8" stroke-width="1.19" stroke-linejoin="round" stroke-linecap="round" />
<path d="M297.8 632.6 Q305 636.2 312.2 632.6" fill="none" stroke="#d8d8d8" stroke-width="1.19" stroke-linejoin="round" stroke-linecap="round" />
<path d="M297.8 635.9 Q305 639.5 312.2 635.9" fill="none" stroke="#d8d8d8" stroke-width="1.19" stroke-linejoin="round" stroke-linecap="round" />
<path d="M297.8 639.2 Q305 642.8000000000001 312.2 639.2" fill="none" stroke="#d8d8d8" stroke-width="1.19" stroke-linejoin="round" stroke-linecap="round" />
<path d="M297.8 642.5 Q305 646.1 312.2 642.5" fill="none" stroke="#d8d8d8" stroke-width="1.19" stroke-linejoin="round" stroke-linecap="round" />
<path d="M297.8 645.8 Q305 649.4 312.2 645.8" fill="none" stroke="#d8d8d8" stroke-width="1.19" stroke-linejoin="round" stroke-linecap="round" />
<path d="M297.8 649.1 Q305 652.7 312.2 649.1" fill="none" stroke="#d8d8d8" stroke-width="1.19" stroke-linejoin="round" stroke-linecap="round" />
<path d="M297.8 652.4 Q305 656.0 312.2 652.4" fill="none" stroke="#d8d8d8" stroke-width="1.19" stroke-linejoin="round" stroke-linecap="round" />
<path d="M297.8 655.7 Q305 659.3000000000001 312.2 655.7" fill="none" stroke="#d8d8d8" stroke-width="1.19" stroke-linejoin="round" stroke-linecap="round" />
<path d="M297.8 659.0 Q305 662.6 312.2 659.0" fill="none" stroke="#d8d8d8" stroke-width="1.19" stroke-linejoin="round" stroke-linecap="round" />
<ellipse cx="304.9" cy="618.6" rx="8.5" ry="4.6" fill="#fff" stroke="#222" stroke-width="1.5" />
<line x1="305.2" y1="612" x2="305.2" y2="624" stroke="#222" stroke-width="1.0" stroke-dasharray="4 1.6"/>
<path d="M313.6 650 Q319 648.6 320.6 652.6 Q321.6 657.6 318.6 660 L314 661.6 Z" fill="#333" stroke="#222" stroke-width="1.25" stroke-linejoin="round" stroke-linecap="round" />
<path d="M295.2 658.4 Q295 664 296.4 668 Q305 673.4 313.8 668 Q315.2 664 315 658.4 Q305 664.4 295.2 658.4 Z" fill="#fff" stroke="#222" stroke-width="1.62" stroke-linejoin="round" stroke-linecap="round" />
<path d="M295.6 661.6 Q305 667.6 314.8 661.6" fill="none" stroke="#222" stroke-width="1.12" stroke-linejoin="round" stroke-linecap="round" />
<path d="M298.2 669.4 L298.6 675 Q305 679 311.6 675 L312 669.4 Q305 673.6 298.2 669.4 Z" fill="#fff" stroke="#222" stroke-width="1.25" stroke-linejoin="round" stroke-linecap="round" />
<path d="M298.4 672 Q305 676 311.8 672" fill="none" stroke="#222" stroke-width="1.75" stroke-linejoin="round" stroke-linecap="round" />
<ellipse cx="305" cy="675.4" rx="3.4" ry="1.4" fill="none" stroke="#222" stroke-width="1.0" />
<line x1="305.2" y1="678" x2="305.2" y2="681.4" stroke="#222" stroke-width="1.0" />
<line x1="320.6" y1="652.2" x2="331.8" y2="645.6" stroke="#222" stroke-width="1.12" />
<path d="M341.6 636.4 Q346 633.4 350 635.6 Q353.4 638.4 353.2 647 L344.8 647 Q345.2 644 342 645.8 Z" fill="#fff" stroke="#222" stroke-width="2.0" stroke-linejoin="round" stroke-linecap="round" />
<path d="M345.6 636.2 Q348.6 640 348.2 646.6" fill="none" stroke="#222" stroke-width="1.25" stroke-linejoin="round" stroke-linecap="round" />
<path d="M333.2 637.4 Q336.6 634.6 340.6 635.4 Q344.6 640.4 342.4 646.6 Q338 649.6 334.2 647.4 Q330.8 642.6 333.2 637.4 Z" fill="#fff" stroke="#222" stroke-width="1.5" stroke-linejoin="round" stroke-linecap="round" />
<path d="M333.2 637.4 Q336.6 634.6 339 635.2 L340.2 640.6 L338.6 648.4 Q336 648.6 334.2 647.4 Q330.8 642.6 333.2 637.4 Z" fill="#1c1c1c" stroke="#222" stroke-width="1.0" stroke-linejoin="round" stroke-linecap="round" />
<path d="M340.2 640.6 L343.6 641.4" fill="none" stroke="#222" stroke-width="1.25" stroke-linejoin="round" stroke-linecap="round" />
<rect x="344.2" y="646.6" width="9.3" height="36.2" fill="url(#braid2)" stroke="#1c1c1c" stroke-width="1.3"/>
<rect x="344.2" y="646.6" width="9.3" height="9" fill="#1c1c1c"/>
<rect x="345.5" y="649.3" width="6.7" height="6.3" fill="#b8b8b8" stroke="#1c1c1c" stroke-width="0.8"/>
<line x1="347.91" y1="650.1" x2="347.91" y2="655.6" stroke="#333" stroke-width="0.8"/>
<line x1="349.92" y1="650.1" x2="349.92" y2="655.6" stroke="#333" stroke-width="0.8"/>
<line x1="349" y1="683.6" x2="349" y2="686.6" stroke="#222" stroke-width="1.0" />
<ellipse cx="305" cy="685.4" rx="5.4" ry="3.5" fill="#555" stroke="#222" stroke-width="2.0" />
<ellipse cx="305" cy="685.6" rx="2.8" ry="1.3" fill="#ddd" stroke="#ddd" stroke-width="0.88" />
<line x1="305.2" y1="689.6" x2="305.2" y2="693" stroke="#222" stroke-width="1.0" />
<path d="M297.2 698 L297.4 703.6 L301 707.4 L309.6 707.6 L313.6 703.6 L313.8 698 Z" fill="#fff" stroke="#222" stroke-width="1.5" stroke-linejoin="round" stroke-linecap="round" />
<path d="M301 701.6 L301 707.4 M309.6 701.8 L309.6 707.6" fill="none" stroke="#222" stroke-width="1.12" stroke-linejoin="round" stroke-linecap="round" />
<ellipse cx="305.4" cy="697.8" rx="8.2" ry="4.4" fill="#3a3a3a" stroke="#222" stroke-width="1.75" />
<ellipse cx="305.4" cy="698.6" rx="4.6" ry="1.9" fill="#666" stroke="#ccc" stroke-width="0.88" />
<line x1="305.2" y1="708.4" x2="305.2" y2="712.4" stroke="#222" stroke-width="1.0" stroke-dasharray="2 1"/>
</g>
<g id="rightcol">
<path d="M680.4 115.6 Q677.6 119 678 123 Q678 128 684 132.4 L685.6 134.4 Q691.2 137.6 697.4 134.4 L698.4 132.4 Q704 128.6 704.4 123.6 Q704.6 119.6 702.6 116.6 L692 121.6 Z" fill="#fff" stroke="#222" stroke-width="1.5" stroke-linejoin="round" stroke-linecap="round" />
<path d="M678.2 123.4 Q691.2 132.4 704.2 122.8" fill="none" stroke="#222" stroke-width="1.12" stroke-linejoin="round" stroke-linecap="round" />
<path d="M684 132.2 Q691.2 135.6 698.4 132.2" fill="none" stroke="#222" stroke-width="1.12" stroke-linejoin="round" stroke-linecap="round" />
<path d="M684 110.8 L709.6 96.8 Q713 95 716.6 95.6 Q721.4 96.8 722.4 100 Q722.6 103 720.4 105 L694.6 120.4 Q692 121.8 689.6 121 Q685 119.4 683 116 Q682 113 684 110.8 Z" fill="#fff" stroke="#222" stroke-width="1.62" stroke-linejoin="round" stroke-linecap="round" />
<path d="M685.4 111.8 L710.2 98.2 Q713.4 96.6 716.4 97.2 Q720 98.2 720.8 100.4 Q721 102.4 719.4 103.8 L694 118.8 Q692 119.8 690 119.2 Q686.4 117.8 684.8 115.4 Q684 113.2 685.4 111.8 Z" fill="none" stroke="#222" stroke-width="0.88" stroke-linejoin="round" stroke-linecap="round" />
<path d="M685 118 Q689 121.6 692.6 121.4 L720.4 105" fill="none" stroke="#222" stroke-width="2.12" stroke-linejoin="round" stroke-linecap="round" />
<ellipse cx="691.2" cy="113.6" rx="0.7" ry="0.7" fill="#222" stroke="#222" stroke-width="0.75" />
<line x1="691.2" y1="137" x2="691.2" y2="148" stroke="#222" stroke-width="1.12" />
<ellipse cx="691.2" cy="159.6" rx="18.3" ry="11.0" fill="none" stroke="#222" stroke-width="1.5" />
<path d="M672.9000000000001 160.4 Q674.2 168 683.2 170.4 Q691.2 172 699.2 170.4 Q708.2 168 709.5 160.4" fill="none" stroke="#222" stroke-width="1.88" stroke-linejoin="round" stroke-linecap="round" />
<ellipse cx="691.2" cy="158.6" rx="16.2" ry="9.0" fill="none" stroke="#222" stroke-width="1.12" />
<ellipse cx="691.2" cy="158.2" rx="14.8" ry="7.6" fill="none" stroke="#222" stroke-width="1.62" />
<path d="M674.8000000000001 161.6 Q691.2 176.8 707.6 161.6" fill="none" stroke="#222" stroke-width="1.0" stroke-linejoin="round" stroke-linecap="round" />
<ellipse cx="691.2" cy="186.6" rx="15.6" ry="9.0" fill="none" stroke="#222" stroke-width="2.38" />
<ellipse cx="691.2" cy="186.0" rx="12.6" ry="6.5" fill="none" stroke="#222" stroke-width="1.25" />
<ellipse cx="691.2" cy="212.4" rx="17" ry="9.8" fill="none" stroke="#222" stroke-width="1.88" />
<line x1="679.8000000000001" y1="205.0" x2="678.6600000000001" y2="203.74200000000002" stroke="#222" stroke-width="1.62" />
<line x1="702.4000000000001" y1="205.0" x2="703.5200000000001" y2="203.74200000000002" stroke="#222" stroke-width="1.62" />
<line x1="679.6" y1="219.6" x2="678.44" y2="220.824" stroke="#222" stroke-width="1.62" />
<line x1="702.6" y1="219.6" x2="703.74" y2="220.824" stroke="#222" stroke-width="1.62" />
<line x1="691.2" y1="152" x2="691.2" y2="243" stroke="#222" stroke-width="1.12" stroke-dasharray="9 2 1.6 2"/>
<path d="M688.8 244 Q691 242.2 693.2 244 L693.4 250.5 L688.6 250.5 Z" fill="#222" stroke="#222" stroke-width="1.0" stroke-linejoin="round" stroke-linecap="round" />
<path d="M685.6 251 Q691 248.6 696.4 251 L698.6 255 L698.6 263.4 Q691 268 683.4 263.4 L683.4 255 Z" fill="#262626" stroke="#222" stroke-width="1.12" stroke-linejoin="round" stroke-linecap="round" />
<path d="M687.6 256.4 L689.4 258.6 M692.6 256.2 L694.6 258.2" fill="none" stroke="#ddd" stroke-width="1.5" stroke-linejoin="round" stroke-linecap="round" />
<path d="M684 261.6 Q691 265.6 698 261.6" fill="none" stroke="#aaa" stroke-width="1.0" stroke-linejoin="round" stroke-linecap="round" />
<path d="M684.8 265 L684.8 273.6 Q691 278.4 697.2 273.6 L697.2 265 Q691 268.4 684.8 265 Z" fill="#fff" stroke="#222" stroke-width="1.62" stroke-linejoin="round" stroke-linecap="round" />
<path d="M685.4 272 Q691 276.4 696.6 272" fill="none" stroke="#222" stroke-width="2.0" stroke-linejoin="round" stroke-linecap="round" />
<path d="M688 267.2 L688 270.4 L694 270.4 L694 267.2" fill="none" stroke="#222" stroke-width="1.5" stroke-linejoin="round" stroke-linecap="round" />
<path d="M699 264.6 L707.2 271 L705.4 273 Z" fill="#222" stroke="#222" stroke-width="1.25" stroke-linejoin="round" stroke-linecap="round" />
<path d="M699.6 286.6 Q706 284 706.6 276 L706.2 272" fill="none" stroke="#222" stroke-width="1.12" stroke-linejoin="round" stroke-linecap="round" />
<line x1="691.2" y1="277.6" x2="691.2" y2="284" stroke="#222" stroke-width="1.12" />
<ellipse cx="691" cy="288.2" rx="7.0" ry="3.7" fill="none" stroke="#222" stroke-width="1.62" />
<line x1="691.2" y1="292" x2="691.2" y2="301" stroke="#222" stroke-width="1.12" />
<path d="M664.3 344 L663 329 Q663.4 318 673.7 307 Q681 302 690.7 301.4 L709.4 301.4 Q714 302 715 307 Q716 313 712.6 317 L702 322.6 L683 323.4 L681.3 333.2 Z" fill="#fff" stroke="#222" stroke-width="1.38" stroke-linejoin="round" stroke-linecap="round" />
<path d="M665.2 331.5 L683 323 M707 305.6 L713.8 302.6" fill="none" stroke="#222" stroke-width="1.25" stroke-linejoin="round" stroke-linecap="round" />
<path d="M667 341.4 L676 326.4 M671.4 339.6 L681.4 323.6 M676.6 336 L682.4 327" fill="none" stroke="#2a2a2a" stroke-width="1.88" stroke-linejoin="round" stroke-linecap="round" />
<path d="M706 320 L713.4 304.4 M710 318.4 L715 308" fill="none" stroke="#2a2a2a" stroke-width="1.62" stroke-linejoin="round" stroke-linecap="round" />
<path d="M706.4 306 L714 303" fill="none" stroke="#222" stroke-width="1.12" stroke-linejoin="round" stroke-linecap="round" />
<ellipse cx="694" cy="329.6" rx="12" ry="5.6" fill="#fff" stroke="#222" stroke-width="1.88" />
<path d="M682.4 334 L682.4 355 Q691.6 360 701 355 L701 334 Z" fill="#3a3a3a" stroke="#222" stroke-width="1.38" stroke-linejoin="round" stroke-linecap="round" />
<path d="M684 338.4 Q691.6 341.79999999999995 699.6 338.4" fill="none" stroke="#c8c8c8" stroke-width="1.12" stroke-linejoin="round" stroke-linecap="round" />
<path d="M684 341.5 Q691.6 344.9 699.6 341.5" fill="none" stroke="#c8c8c8" stroke-width="1.12" stroke-linejoin="round" stroke-linecap="round" />
<path d="M684 344.59999999999997 Q691.6 347.99999999999994 699.6 344.59999999999997" fill="none" stroke="#c8c8c8" stroke-width="1.12" stroke-linejoin="round" stroke-linecap="round" />
<path d="M684 347.7 Q691.6 351.09999999999997 699.6 347.7" fill="none" stroke="#c8c8c8" stroke-width="1.12" stroke-linejoin="round" stroke-linecap="round" />
<path d="M684 350.79999999999995 Q691.6 354.19999999999993 699.6 350.79999999999995" fill="none" stroke="#c8c8c8" stroke-width="1.12" stroke-linejoin="round" stroke-linecap="round" />
<path d="M684 353.9 Q691.6 357.29999999999995 699.6 353.9" fill="none" stroke="#c8c8c8" stroke-width="1.12" stroke-linejoin="round" stroke-linecap="round" />
<path d="M683.6 318 L684 329.4 Q691.6 334 700.6 329.4 L701 318 Z" fill="#444" stroke="#222" stroke-width="1.25" stroke-linejoin="round" stroke-linecap="round" />
<path d="M686 323.6 Q692 327 698.4 323.6 M686 327 Q692 330.4 698.4 327" fill="none" stroke="#ccc" stroke-width="1.12" stroke-linejoin="round" stroke-linecap="round" />
<path d="M682.4 331 Q691 338.6 704 333" fill="none" stroke="#222" stroke-width="1.75" stroke-linejoin="round" stroke-linecap="round" />
<ellipse cx="691.1" cy="312.4" rx="16.8" ry="9.6" fill="#fff" stroke="#222" stroke-width="1.88" />
<path d="M674.6 314.6 Q678 323.6 691 324.4 Q704.6 323.6 707.8 314.6" fill="none" stroke="#222" stroke-width="1.38" stroke-linejoin="round" stroke-linecap="round" />
<ellipse cx="691.3" cy="311.2" rx="12.4" ry="5.6" fill="#fff" stroke="#222" stroke-width="3.25" />
<ellipse cx="692" cy="312.2" rx="7.8" ry="3.1" fill="#fff" stroke="#222" stroke-width="1.38" />
<line x1="691.2" y1="301" x2="691.2" y2="314" stroke="#222" stroke-width="1.0" />
<path d="M681.6 355 L681.6 367 Q684 373 691.6 374.4 Q699 373.4 700.8 368 L701 355 Q691.6 360 681.6 355 Z" fill="#fff" stroke="#222" stroke-width="1.62" stroke-linejoin="round" stroke-linecap="round" />
<path d="M682.6 358.6 Q691.6 363.6 700.6 358.6" fill="none" stroke="#222" stroke-width="2.0" stroke-linejoin="round" stroke-linecap="round" />
<path d="M683.6 367.4 Q691.6 362.6 699.4 367.4" fill="none" stroke="#222" stroke-width="1.62" stroke-linejoin="round" stroke-linecap="round" />
<path d="M684.6 371 Q691.6 366.6 698.4 371" fill="none" stroke="#222" stroke-width="1.12" stroke-linejoin="round" stroke-linecap="round" />
<path d="M689 357.6 L689 362.6 L696.6 362.6 L696.6 358" fill="#fff" stroke="#222" stroke-width="1.38" stroke-linejoin="round" stroke-linecap="round" />
<path d="M697.6 356.4 L700 361 M682.6 361.6 Q686 366 689.6 364" fill="none" stroke="#222" stroke-width="1.5" stroke-linejoin="round" stroke-linecap="round" />
<path d="M676.4 358.6 Q680 355.4 684.6 357 L686.6 365 Q682.6 367.6 678.6 366.4 Q675 363 676.4 358.6 Z" fill="#fff" stroke="#222" stroke-width="1.62" stroke-linejoin="round" stroke-linecap="round" />
<ellipse cx="680.4" cy="361.4" rx="2.4" ry="3.3" fill="#fff" stroke="#222" stroke-width="1.5" transform="rotate(-25 680.4 361.4)" />
<path d="M682.6 357 Q685.6 360 685 365.6" fill="none" stroke="#333" stroke-width="2.75" stroke-linejoin="round" stroke-linecap="round" />
<line x1="669.4" y1="367.6" x2="675.6" y2="363.8" stroke="#222" stroke-width="1.0" stroke-dasharray="3 1.2"/>
<path d="M658.4 371.6 Q651.6 375.4 649.4 381.6 L648.2 387 L657.4 387 L658 383.6 Q659.6 380.4 664 378.2 Z" fill="#fff" stroke="#222" stroke-width="2.0" stroke-linejoin="round" stroke-linecap="round" />
<path d="M656.4 369.6 Q658.6 365.4 663.6 365.2 Q668.4 366.8 669.2 371.6 Q668.6 376.6 664.8 378.8 Q660 379.6 657.4 376.2 Q655.4 372.6 656.4 369.6 Z" fill="#fff" stroke="#222" stroke-width="1.88" stroke-linejoin="round" stroke-linecap="round" />
<ellipse cx="660.2" cy="372.6" rx="3.3" ry="5.6" fill="#fff" stroke="#222" stroke-width="1.62" transform="rotate(-22 660.2 372.6)" />
<path d="M662.4 366 L666.4 367.6 L668 372 M666.4 367.6 L665.6 373.2 L663.6 378.4" fill="none" stroke="#222" stroke-width="1.25" stroke-linejoin="round" stroke-linecap="round" />
<rect x="647.7" y="386" width="9.6" height="36.4" fill="url(#braid2)" stroke="#1c1c1c" stroke-width="1.3"/>
<rect x="647.7" y="386" width="9.6" height="12" fill="#1c1c1c"/>
<rect x="649.04" y="389.6" width="6.91" height="8.4" fill="#b8b8b8" stroke="#1c1c1c" stroke-width="0.8"/>
<line x1="651.53" y1="390.4" x2="651.53" y2="398.0" stroke="#333" stroke-width="0.8"/>
<line x1="653.61" y1="390.4" x2="653.61" y2="398.0" stroke="#333" stroke-width="0.8"/>
<line x1="651.9" y1="423.4" x2="651.9" y2="428" stroke="#222" stroke-width="1.0" />
</g>
<g id="tabledraw">
<path d="M349.4 829.4 L356.4 825.6 Q358.6 825.4 359.4 827.4 L360 830 L352.6 833.4 Q349.6 833.6 348.6 831.6 Z" fill="#555" stroke="#222" stroke-width="1.25" stroke-linejoin="round" stroke-linecap="round" />
<ellipse cx="350.4" cy="830.6" rx="1.7" ry="2.4" fill="#fff" stroke="#222" stroke-width="1.25" transform="rotate(28 350.4 830.6)" />
<line x1="357.2" y1="825" x2="356.4" y2="822.6" stroke="#222" stroke-width="0.88" />
<path d="M354.6 830.2 L365.8 836.8 L364.8 838.6 L353.6 832 Z" fill="#fff" stroke="#222" stroke-width="1.38" stroke-linejoin="round" stroke-linecap="round" />
<path d="M368.6 838.6 L387.4 849.6 L386.4 851.4 L367.6 840.4 Z" fill="#fff" stroke="#222" stroke-width="1.38" stroke-linejoin="round" stroke-linecap="round" />
<ellipse cx="390" cy="853" rx="4.3" ry="7.2" fill="#1c1c1c" stroke="#222" stroke-width="1.25" transform="rotate(28 390 853)" />
<path d="M393.6 854 L400.4 858" fill="none" stroke="#2a2a2a" stroke-width="2.75" stroke-linejoin="round" stroke-linecap="round" />
<ellipse cx="403" cy="859.4" rx="3.1" ry="3.1" fill="#fff" stroke="#222" stroke-width="1.38" />
<path d="M405.8 861 L416.8 867.6" fill="none" stroke="#2a2a2a" stroke-width="2.75" stroke-linejoin="round" stroke-linecap="round" />
<ellipse cx="422" cy="870.4" rx="2.1" ry="3.3" fill="#fff" stroke="#222" stroke-width="2.0" transform="rotate(28 422 870.4)" />
<ellipse cx="429.4" cy="874.4" rx="2.7" ry="3.7" fill="#888" stroke="#222" stroke-width="2.75" transform="rotate(28 429.4 874.4)" />
<path d="M585 837 Q588.3 835 591.6 837 L591.6 885 Q588.3 887 585 885 Z" fill="#fff" stroke="#777" stroke-width="1.0" stroke-linejoin="round" stroke-linecap="round" />
<ellipse cx="588.3" cy="837.2" rx="3.3" ry="1.5" fill="none" stroke="#777" stroke-width="0.88" />
<path d="M589.6 840 L589.6 862 M585 862.6 L588 862.6 L588 866.6 L591.6 866.6" fill="none" stroke="#888" stroke-width="0.75" stroke-linejoin="round" stroke-linecap="round" />
<path d="M574.6 887.4 L601.4 872.4 L602.6 874.2 L575.8 889.4 Z" fill="#fff" stroke="#777" stroke-width="1.0" stroke-linejoin="round" stroke-linecap="round" />
<path d="M585 881.4 L585 885 Q588.3 887 591.6 885 L591.6 878" fill="#fff" stroke="#777" stroke-width="1.0" stroke-linejoin="round" stroke-linecap="round" />
<path d="M660.2 847.4 L660.8 850.4 L660.8 866.6 L660 867.6 L660 873 Q664.8 876 669.6 873 L669.6 867.6 L668.8 866.6 L668.8 850.4 L669.4 847.4" fill="#fff" stroke="#222" stroke-width="1.38" stroke-linejoin="round" stroke-linecap="round" />
<ellipse cx="664.8" cy="847" rx="4.3" ry="2.3" fill="#1c1c1c" stroke="#222" stroke-width="1.25" />
<path d="M660.8 850.8 Q664.8 852.8 668.8 850.8 M660 867.8 Q664.8 870.6 669.6 867.8" fill="none" stroke="#222" stroke-width="1.12" stroke-linejoin="round" stroke-linecap="round" />
<line x1="663.2" y1="869" x2="663.2" y2="874.6" stroke="#222" stroke-width="1.0" />
<line x1="666.6" y1="868.6" x2="666.6" y2="874.2" stroke="#222" stroke-width="1.0" />
</g>
</svg>
</body></html>
